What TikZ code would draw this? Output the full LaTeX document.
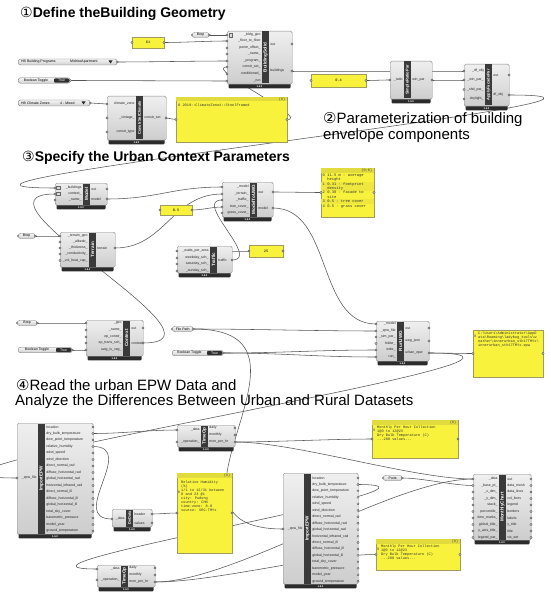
\documentclass[tikz,border=0pt]{standalone}
\usepackage{fontspec}
\setmainfont{Liberation Sans}
\newfontfamily\monof{Liberation Mono}
\newfontfamily\symf{DejaVu Sans}
\pgfdeclarelayer{bg}
\pgfdeclarelayer{wires}
\pgfsetlayers{bg,wires,main}
\definecolor{compTop}{HTML}{EFEFEF}
\definecolor{compBot}{HTML}{CDCDCD}
\definecolor{compEdge}{HTML}{8A8A8A}
\definecolor{stripCol}{HTML}{3A3A3A}
\definecolor{barCol}{HTML}{2B2B2B}
\definecolor{wireCol}{HTML}{555555}
\definecolor{panelY}{HTML}{F8F23C}
\definecolor{panelHead}{HTML}{E2DB3E}
\definecolor{panelBand}{HTML}{EEE73E}
\definecolor{panelEdge}{HTML}{A09C60}
\newcommand\pfont{\fontsize{3.5}{4}\selectfont}
\newcommand\lfont{\fontsize{4.6}{5}\selectfont\bfseries}
\newcommand\mfont{\monof\fontsize{3.6}{4.0}\selectfont}
\newcommand\vfont{\fontsize{2.6}{3}\selectfont\bfseries}
\tikzset{
  wire/.style={draw=wireCol,line width=0.55pt},
  gw/.style={out=0,in=180,out distance=#1,in distance=#1},
  gw/.default=30pt,
  portdot/.style={fill=white,draw=black!75,line width=0.3pt},
  compbox/.style={draw=compEdge,line width=0.4pt,rounded corners=1.5pt,top color=compTop,bottom color=compBot,inner sep=0pt},
  parambox/.style={draw=black!55,line width=0.35pt,rounded corners=2.5pt,top color=gray!8,bottom color=gray!38,inner sep=0pt},
  panelbox/.style={draw=panelEdge,fill=panelY,line width=0.4pt,inner sep=0pt},
  ptxt/.style={anchor=north west,font=\mfont,align=left,inner sep=0pt,text=black!80},
  title/.style={anchor=base west,inner sep=0pt,text=black},
}
% component: id, x1, y1, x2, y2, strip-x, label, inputs, outputs
\newcommand{\ghcomp}[9]{%
  \fill[barCol,rounded corners=1pt] (#2+1.5,#5-2) rectangle (#4-1.5,#5+4.3);
  \node[compbox,anchor=north west,minimum width={(#4-#2)*1pt},minimum height={(#5-#3)*1pt}] (#1) at (#2,#3) {};
  \fill[stripCol] (#6,#3+0.5) rectangle (#6+7,#5-0.5);
  \node[rotate=90,text=white,font=\lfont,inner sep=0pt] at ({#6+3.5},{(#3+#5)/2}) {#7};
  \node[text=white,font=\vfont,inner sep=0pt] at ({(#2+#4)/2},{#5+2.2}) {1.6.0};
  \foreach \yy/\ptext/\pid in {#8}{%
    \coordinate (#1-\pid) at (#2,\yy);
    \node[anchor=east,font=\pfont,inner sep=0pt,text=black!85] at (#6-1.2,\yy) {\ptext};
    \draw[portdot] (#2,\yy) circle (1.1);
  }%
  \foreach \yy/\ptext/\pid in {#9}{%
    \coordinate (#1-\pid) at (#4,\yy);
    \node[anchor=west,font=\pfont,inner sep=0pt,text=black!85] at (#6+8.2,\yy) {\ptext};
    \draw[portdot] (#4,\yy) circle (1.1);
  }%
}
% param: id, x1, x2, y, text
\newcommand{\ghparam}[5]{%
  \node[parambox,minimum width={(#3-#2)*1pt},minimum height=5pt,anchor=west,font=\pfont] (#1) at (#2,#4) {#5};
  \draw[portdot] (#1.east) circle (1);
  \draw[portdot] (#1.west) circle (1);
}
% toggle: id, x1, x2, y
\newcommand{\ghtoggle}[4]{%
  \node[parambox,minimum width={(#3-#2)*1pt},minimum height=5.5pt,anchor=west] (#1) at (#2,#4) {};
  \fill[black!82,rounded corners=1pt] (#3-16,#4-2.1) rectangle (#3-0.9,#4+2.1);
  \node[font=\pfont,inner sep=0pt] at ({(#2+#3-16)/2},#4) {Boolean Toggle};
  \node[font=\pfont,inner sep=0pt,text=white] at (#3-8.4,#4) {True};
  \draw[portdot] (#1.east) circle (1);
}
% value list: id, x1, x2, y, name, value, value-x
\newcommand{\ghlist}[7]{%
  \node[parambox,minimum width={(#3-#2)*1pt},minimum height=6pt,anchor=west] (#1) at (#2,#4) {};
  \node[anchor=west,font=\pfont,inner sep=0pt] at (#2+3,#4) {#5};
  \node[anchor=west,font=\pfont,inner sep=0pt] at (#7,#4) {#6};
  \fill[black!85] (#3-8.5,#4-1.5) -- (#3-4.5,#4-1.5) -- (#3-6.5,#4+1.5) -- cycle;
  \draw[portdot] (#1.east) circle (1);
}
% panel: id, x1, y1, x2, y2
\newcommand{\ghpanel}[5]{%
  \node[panelbox,anchor=north west,minimum width={(#4-#2)*1pt},minimum height={(#5-#3)*1pt}] (#1) at (#2,#3) {};
  \coordinate (#1-in) at (#2,{(#3+#5)/2});
  \coordinate (#1-out) at (#4,{(#3+#5)/2});
  \draw[portdot] (#1-in) circle (1.1);
  \draw[portdot] (#1-out) circle (1.1);
}
% panel header: x1, y1, x2, text
\newcommand{\ghhead}[4]{%
  \fill[panelHead] (#1+0.3,#2+0.3) rectangle (#3-0.3,#2+4.5);
  \node[anchor=east,font=\mfont,inner sep=0pt,text=black!70] at (#3-1.5,#2+2.5) {#4};
}
\begin{document}
\begin{tikzpicture}[x=1pt,y=-1pt]
\begin{pgfonlayer}{bg}
\fill[white] (0,0) rectangle (550,596);
\end{pgfonlayer}
\useasboundingbox (0,0) rectangle (550,596);

% ---------- titles ----------
\node[title,font=\fontsize{14}{16}\selectfont\bfseries] (t1) at (20,17.5) {{\symf\mdseries ①}Define theBuilding Geometry};
\node[title,font=\fontsize{15}{16}\selectfont] (t2a) at (323,123.5) {{\symf ②}Parameterization of building};
\node[title,font=\fontsize{15}{16}\selectfont] (t2b) at (323,139.5) {envelope components};
\node[title,font=\fontsize{14}{16}\selectfont\bfseries] (t3) at (22,161.5) {{\symf\mdseries ③}Specify the Urban Context Parameters};
\node[title,font=\fontsize{15}{16}\selectfont] (t4a) at (16,390.5) {{\symf ④}Read the urban EPW Data and};
\node[title,font=\fontsize{15}{16}\selectfont] (t4b) at (15,405) {Analyze the Differences Between Urban and Rural Datasets};

% ---------- section 1 ----------
\ghcomp{bs}{227}{31}{292}{84}{262}{BuildingSolid}
 {35/\_bldg\_geo/g, 41/\_floor\_to\_floor/f, 48/perim\_offset\_/p, 54/\_name\_/n, 61/\_program\_/pr, 67/constr\_set\_/c, 74/conditioned\_/co, 81/\_run/r}
 {44/out/o, 71/buildings/b}
\draw[fill=gray!30,draw=black!60,line width=0.3pt] (228.8,33.2) rectangle (232.6,36.8);
\ghcomp{csc}{107}{96}{166}{140}{136}{{\fontsize{4}{4}\selectfont ConstrSetClimate}}
 {104/climate\_zone/cz, 118/\_vintage\_/v, 132/constr\_type/ct}
 {118/constr\_set/cs}
\ghparam{brep1}{192}{209}{35}{Brep}
\ghlist{pl}{18}{117}{62}{HB Building Programs}{MidriseApartment}{70}
\ghtoggle{tg1}{18}{70}{80.5}
\ghlist{cl}{18}{90}{103}{HB Climate Zones}{4 - Mixed}{60}
\ghpanel{p61}{132}{37}{164}{48}
\node[font=\mfont,inner sep=0pt] at (148,42.5) {61};
\ghpanel{pcs}{176}{97}{287}{142}
\ghhead{176}{97}{287}{\{0\}}
\node[ptxt] at (178,103.5) {0 2019::ClimateZone4::SteelFramed};

% ---------- section 2 ----------
\ghpanel{p04}{311}{74}{366}{87}
\node[font=\mfont,inner sep=0pt] at (338.5,80.5) {0.4};
\ghcomp{swr}{390}{61}{432}{99}{404}{{\fontsize{4}{4}\selectfont SimpleRatioPar}}
 {80/\_ratio/r}
 {80/win\_par/w}
\ghcomp{afp}{464}{64}{509}{106}{485}{{\fontsize{4}{4}\selectfont ApplyFacadePar}}
 {71/\_df\_obj/d, 80/\_win\_par\_/w, 89.5/\_shd\_par\_/s, 99/skylight\_/k}
 {75/out/o, 95/df\_obj/od}

% ---------- section 3 ----------
\ghcomp{mdl}{55}{183}{107}{205}{83}{Model}
 {188/\_buildings/b, 194/context\_/c, 200/\_name\_/n}
 {189/out/o, 199/model/m}
\draw[fill=gray!30,draw=black!60,line width=0.3pt] (56.5,186.3) rectangle (59.8,189.6);
\draw[fill=gray!30,draw=black!60,line width=0.3pt] (56.5,192.3) rectangle (59.8,195.6);
\ghcomp{ter}{60}{232}{115}{267}{89}{Terrain}
 {236/\_terrain\_geo/g, 242/\_albedo\_/a, 248/\_thickness\_/t, 254/\_conductivity\_/c, 260.5/\_vol\_heat\_cap\_/v}
 {248/terrain/tr}
\ghparam{brep2}{18}{35}{236}{Brep}
\ghpanel{p05}{160}{205}{192}{215}
\node[font=\mfont,inner sep=0pt] at (176,210) {0.5};
\ghcomp{mtu}{222}{182}{273}{217}{250}{ModelToUWG}
 {187/\_model/m, 194/\_terrain\_/t, 200/\_traffic\_/r, 207/tree\_cover\_/tc, 213/grass\_cover\_/gc}
 {192/out/o, 208/model/md}
\ghcomp{trf}{177}{246}{232}{273}{210}{Traffic}
 {251/\_watts\_per\_area/w, 258/weekday\_sch\_/wd, 264/saturday\_sch\_/sa, 271/\_sunday\_sch\_/su}
 {260/traffic/t}
\ghpanel{p25}{249}{245}{283}{257}
\node[font=\mfont,inner sep=0pt] at (266,251) {25};
\ghpanel{puwg}{321}{168}{374}{217}
\ghhead{321}{168}{374}{\{0;0\}}
\fill[panelBand] (321.4,181.8) rectangle (373.6,190.6);
\fill[panelBand] (321.4,199.4) rectangle (373.6,203.8);
\node[ptxt,font=\monof\fontsize{3.8}{4.4}\selectfont] at (322.5,173.5)
 {0 11.5 m - average\\\hphantom{0 }height\\1 0.31 - footprint\\\hphantom{0 }density\\2 0.38 - facade to\\\hphantom{0 }site\\3 0.5 - tree cover\\4 0.5 - grass cover};

\ghcomp{ctx}{86}{320}{143}{356}{123}{Context}
 {323/\_geo/g, 330/\_name\_/n, 337/ep\_constr\_/e, 343/ep\_trans\_sch\_/ts, 350/uwg\_is\_veg\_/u}
 {328/out/o, 343/context/c}
\ghparam{brep3}{17}{37}{323}{Brep}
\ghtoggle{tg2}{18}{72}{350}
\ghparam{fp}{172}{193}{329}{File Path}
\ghtoggle{tg3}{172}{223}{353}
\ghcomp{ruw}{376}{321}{429}{361}{397}{RunUWG}
 {324/\_model/m, 331/\_epw\_file/e, 337/\_sim\_par\_/s, 343.5/folder\_/f, 350/write\_/w, 357/run\_/r}
 {328/out/o, 341/uwg\_json/j, 353/urban\_epw/u}
\ghpanel{pepw}{473}{330}{543}{377}
\node[font=\mfont,inner sep=0pt,text=black!70] at (475.2,336) {0};
\node[ptxt] at (478,332)
 {C:\textbackslash Users\textbackslash Administrator\textbackslash AppD\\ata\textbackslash Roaming\textbackslash ladybug\_tools\textbackslash w\\eather\textbackslash innerurban\_sth17TMYx\textbackslash\\innerurban\_sth17TMYx.epw};

% ---------- section 4 ----------
\ghcomp{ie1}{17}{423}{93}{534}{38}{ImportEPW}
 {478/\_epw\_file/e}
 {427/location/o0, 433.5/dry\_bulb\_temperature/o1, 440/dew\_point\_temperature/o2, 446.5/relative\_humidity/o3, 453/wind\_speed/o4, 459.5/wind\_direction/o5, 466/direct\_normal\_rad/o6, 472.5/diffuse\_horizontal\_rad/o7, 479/global\_horizontal\_rad/o8, 485.5/horizontal\_infrared\_rad/o9, 492/direct\_normal\_ill/o10, 498.5/diffuse\_horizontal\_ill/o11, 505/global\_horizontal\_ill/o12, 511.5/total\_sky\_cover/o13, 518/barometric\_pressure/o14, 524.5/model\_year/o15, 531/ground\_temperature/o16}
\ghcomp{to1}{177}{425}{235}{447}{201}{TimeOp}
 {430/\_data/d, 442/\_operation\_/op}
 {428/daily/dy, 435/monthly/mo, 442/mon\_per\_hr/mph}
\ghcomp{dd}{112}{509}{152}{527}{126}{{\fontsize{3.8}{4}\selectfont DeData}}
 {519/\_data/d}
 {514/header/h, 523/values/v}
\ghpanel{prh}{177}{473}{232}{553}
\ghhead{177}{473}{232}{\{0\}}
\node[font=\mfont,inner sep=0pt,text=black!70] at (179,492) {0};
\node[ptxt] at (181,480.5)
 {Relative Humidity\\(\%)\\1/1 to 12/31 between\\0 and 23 @1\\city: Pudong\\country: CHN\\time-zone: 8.0\\source: SRC-TMYx};
\ghcomp{to2}{97}{565}{155}{587}{121}{TimeOp}
 {569/\_data/d, 580/\_operation\_/op}
 {568/daily/dy, 575/monthly/mo, 582/mon\_per\_hr/mph}
\ghcomp{ie2}{283}{473}{358}{584}{304}{ImportEPW}
 {529/\_epw\_file/e}
 {478/location/o0, 484.5/dry\_bulb\_temperature/o1, 490.9/dew\_point\_temperature/o2, 497.4/relative\_humidity/o3, 503.8/wind\_speed/o4, 510.3/wind\_direction/o5, 516.7/direct\_normal\_rad/o6, 523.2/diffuse\_horizontal\_rad/o7, 529.6/global\_horizontal\_rad/o8, 536.1/horizontal\_infrared\_rad/o9, 542.5/direct\_normal\_ill/o10, 549/diffuse\_horizontal\_ill/o11, 555.4/global\_horizontal\_ill/o12, 561.9/total\_sky\_cover/o13, 568.3/barometric\_pressure/o14, 574.8/model\_year/o15, 581.2/ground\_temperature/o16}
\ghpanel{pm1}{372}{420}{458}{458}
\ghhead{372}{420}{458}{\{0\}}
\node[font=\mfont,inner sep=0pt,text=black!70] at (374.3,430) {0};
\node[ptxt] at (377,425.5)
 {Monthly Per Hour Collection\\1@0 to 12@23\\Dry Bulb Temperature (C)\\...288 values...};
\ghpanel{pm2}{376}{539}{460}{570}
\ghhead{376}{539}{460}{\{0\}}
\node[font=\mfont,inner sep=0pt,text=black!70] at (378.3,549) {0};
\node[ptxt] at (381,544.5)
 {Monthly Per Hour Collection\\1@0 to 12@23\\Dry Bulb Temperature (C)\\...288 values...};
\ghparam{pt}{383}{402}{478}{Point}
\ghcomp{mc}{473}{474}{531}{540}{499}{MonthlyChart}
 {479/\_data/d, 485.5/\_base\_pt\_/b, 492/\_x\_dim\_/x, 498.5/\_y\_dim\_/y, 505/stack\_/s, 511.5/percentile\_/p, 518/time\_marks\_/t, 524.5/global\_title\_/g, 531/y\_axis\_title\_/a, 537.5/legend\_par\_/l}
 {479/out/oo, 485.5/data\_mesh/om, 492/data\_lines/odl, 498.5/col\_lines/ocl, 505/legend/ol, 511.5/borders/ob, 518/labels/olb, 524.5/y\_title/oyt, 531/title/ot, 537.5/vis\_set/ov}

% ---------- wires ----------
\begin{pgfonlayer}{wires}
\draw[wire] (brep1.east) to[gw=8pt] (bs-g);
\draw[wire] (p61-out) to[gw=20pt] (bs-f);
\draw[wire] (pl.east) to[gw=30pt] (bs-pr);
\draw[wire] (tg1.east) to[gw=30pt] (bs-r);
\draw[wire] (cl.east) to[gw=8pt] (csc-cz);
\draw[wire] (csc-cs) to[gw=5pt] (pcs-in);
\draw[wire] (pcs-out) to[gw=25pt] (bs-c);
\draw[wire] (bs-b) to[gw=40pt] (afp-d);
\draw[wire] (p04-out) to[gw=10pt] (swr-r);
\draw[wire] (swr-w) to[gw=12pt] (afp-w);
\draw[wire] (afp-od) to[gw=220pt] (mdl-b);
\draw[wire] (mdl-m) to[gw=50pt] (mtu-m);
\draw[wire] (brep2.east) to[gw=8pt] (ter-g);
\draw[wire] (ter-tr) to[gw=50pt] (mtu-t);
\draw[wire] (p05-out) to[gw=10pt] (mtu-tc);
\draw[wire] (p25-out) to[gw=15pt] (trf-w);
\draw[wire] (trf-t) to[gw=30pt] (mtu-r);
\draw[wire] (mtu-o) to[gw=15pt] (puwg-in);
\draw[wire] (mtu-md) to[gw=60pt] (ruw-m);
\draw[wire] (brep3.east) to[gw=15pt] (ctx-g);
\draw[wire] (tg2.east) to[gw=5pt] (ctx-u);
\draw[wire] (ctx-c) to[gw=100pt] (mdl-c);
\draw[wire] (fp.east) to[gw=60pt] (ruw-e);
\draw[wire] (fp.east) to[gw=150pt] (ie2-e);
\draw[wire] (tg3.east) to[gw=60pt] (ruw-w);
\draw[wire] (tg3.east) to[gw=60pt] (ruw-r);
\draw[wire] (ruw-u) to[gw=15pt] (pepw-in);
\draw[wire] (ruw-u) to[gw=210pt] (ie1-e);
\draw[wire] (ie1-o1) to[gw=30pt] (to1-d);
\draw[wire] (ie1-o3) to[gw=45pt] (dd-d);
\draw[wire] (dd-h) to[gw=8pt] (prh-in);
\draw[wire] (to1-mph) to[gw=40pt] (pm1-in);
\draw[wire] (to1-mph) to[gw=60pt] (mc-d);
\draw[wire] (ie2-o1) to[gw=130pt] (to2-d);
\draw[wire] (to2-mph) to[gw=60pt] (pm2-in);
\draw[wire] (to2-mph) to[gw=80pt] (mc-d);
\draw[wire] (pt.east) to[gw=20pt] (mc-b);
\end{pgfonlayer}
\end{tikzpicture}
\end{document}
